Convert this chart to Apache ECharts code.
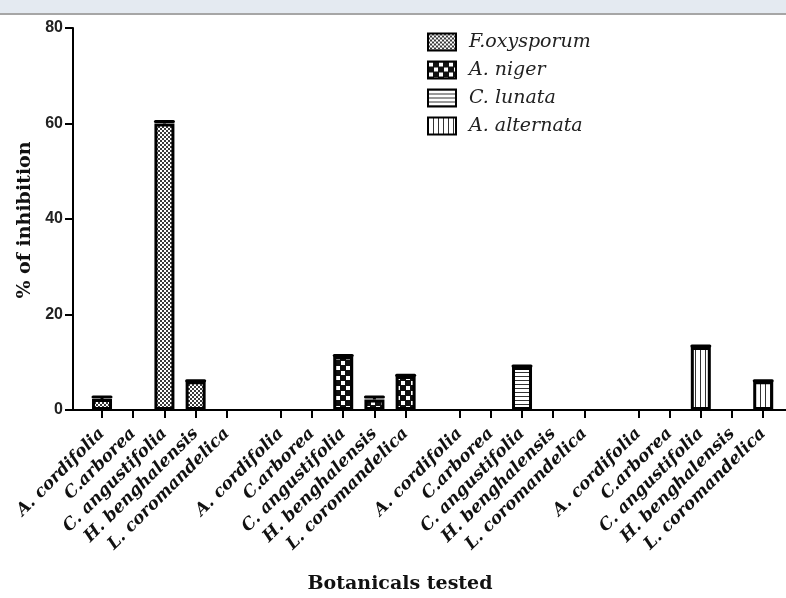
<!DOCTYPE html>
<html>
<head>
<meta charset="utf-8">
<script src="https://cdn.jsdelivr.net/npm/echarts@6/dist/echarts.min.js"></script>
<style>
html,body{margin:0;padding:0;background:#fff;}
#chart{width:786px;height:598px;}
</style>
</head>
<body>
<div id="chart"></div>
<script>
// ---- data ----
const botanicals = ['A. cordifolia', 'C.arborea', 'C. angustifolia', 'H. benghalensis', 'L. coromandelica'];
const fungi = ['F.oxysporum', 'A. niger', 'C. lunata', 'A. alternata'];
const fOxysporum = [2.3, 0, 60, 6, 0];
const aNiger = [0, 0, 11.2, 2.2, 7.1];
const cLunata = [0, 0, 9, 0, 0];
const aAlternata = [0, 0, 13.2, 0, 6];
const fOxysporumErr = [0.4, 0, 0.4, 0.1, 0];
const aNigerErr = [0, 0, 0.2, 0.5, 0.2];
const cLunataErr = [0, 0, 0.2, 0, 0];
const aAlternataErr = [0, 0, 0.2, 0, 0.1];
const yTicks = [0, 20, 40, 60, 80];

const values = [fOxysporum, aNiger, cLunata, aAlternata];
const errors = [fOxysporumErr, aNigerErr, cLunataErr, aAlternataErr];

// ---- layout helpers ----
const GROUP_STEP = 5.73; // group spacing in slot units (one slot per botanical)
const pos = (g, i) => g * GROUP_STEP + i;
const tickPositions = [];
const tickNames = [];
fungi.forEach((f, g) => botanicals.forEach((b, i) => { tickPositions.push(pos(g, i)); tickNames.push(b); }));
function nameAt(v) {
  let best = 0, bd = Infinity;
  tickPositions.forEach((p, k) => { const d = Math.abs(p - v); if (d < bd) { bd = d; best = k; } });
  return tickNames[best];
}

// ---- patterns ----
function makePattern(kind) {
  const c = document.createElement('canvas');
  const ctx = c.getContext('2d');
  if (kind === 0) { // fine checker
    c.width = 4; c.height = 4;
    ctx.fillStyle = '#ffffff'; ctx.fillRect(0, 0, 4, 4);
    ctx.fillStyle = '#3a3a3a'; ctx.fillRect(0, 0, 2, 2); ctx.fillRect(2, 2, 2, 2);
  } else if (kind === 1) { // coarse checker
    c.width = 10; c.height = 10;
    ctx.fillStyle = '#111111'; ctx.fillRect(0, 0, 10, 10);
    ctx.fillStyle = '#ffffff';
    ctx.fillRect(1, 1, 4, 4); ctx.fillRect(6, 6, 4, 4);
  } else if (kind === 2) { // horizontal lines
    c.width = 4; c.height = 4;
    ctx.fillStyle = '#ffffff'; ctx.fillRect(0, 0, 4, 4);
    ctx.fillStyle = '#333333'; ctx.fillRect(0, 0, 4, 1);
  } else { // vertical lines
    c.width = 5; c.height = 5;
    ctx.fillStyle = '#ffffff'; ctx.fillRect(0, 0, 5, 5);
    ctx.fillStyle = '#333333'; ctx.fillRect(0, 0, 1, 5);
  }
  return { image: c, repeat: 'repeat' };
}

const serif = '"DejaVu Serif", "Liberation Serif", serif';
const sans = '"Liberation Sans", Arial, sans-serif';

const barSeries = fungi.map((name, g) => ({
  name: name,
  type: 'bar',
  barWidth: 20,
  barGap: '-100%',
  itemStyle: { color: makePattern(g), borderColor: '#000', borderWidth: 3 },
  emphasis: { disabled: true },
  data: values[g].map((v, i) => [pos(g, i), v]).filter(d => d[1] > 0),
  z: 2
}));

const errData = [];
fungi.forEach((f, g) => values[g].forEach((v, i) => { if (v > 0 && errors[g][i] > 0) errData.push([pos(g, i), v, errors[g][i]]); }));

const errSeries = {
  type: 'custom',
  silent: true,
  data: errData,
  z: 3,
  renderItem: function (params, api) {
    const x = api.value(0), y = api.value(1), e = api.value(2);
    const p0 = api.coord([x, y]);
    const p1 = api.coord([x, y + e]);
    const hw = 9;
    return {
      type: 'group',
      children: [
        { type: 'line', shape: { x1: p0[0], y1: p0[1], x2: p1[0], y2: p1[1] }, style: { stroke: '#000', lineWidth: 3 } },
        { type: 'line', shape: { x1: p1[0] - hw, y1: p1[1], x2: p1[0] + hw, y2: p1[1] }, style: { stroke: '#000', lineWidth: 3, lineCap: 'round' } }
      ]
    };
  }
};

const chart = echarts.init(document.getElementById('chart'), null, { renderer: 'canvas' });
chart.setOption({
  backgroundColor: '#ffffff',
  animation: false,
  graphic: [
    { type: 'rect', left: 0, top: 0, shape: { width: 786, height: 13 }, style: { fill: '#e4eaf1' }, silent: true },
    { type: 'rect', left: 0, top: 13, shape: { width: 786, height: 2 }, style: { fill: '#a6a6a6' }, silent: true },
    { type: 'text', x: 25, y: 220, rotation: Math.PI / 2, silent: true,
      style: { text: '% of inhibition', font: 'bold 19px ' + serif, fill: '#111', align: 'center', verticalAlign: 'middle' } },
    { type: 'text', x: 400, y: 584, silent: true,
      style: { text: 'Botanicals tested', font: 'bold 19px ' + serif, fill: '#111', align: 'center', verticalAlign: 'middle' } }
  ],
  legend: {
    orient: 'vertical',
    left: 427,
    top: 32,
    padding: 0,
    itemWidth: 28,
    itemHeight: 17,
    itemGap: 8,
    icon: 'rect',
    data: fungi,
    selectedMode: false,
    textStyle: { fontFamily: serif, fontStyle: 'italic', fontSize: 19, color: '#222', lineHeight: 20, padding: [0, 0, 0, 8] }
  },
  grid: { left: 73, right: 0, top: 28, bottom: 188, containLabel: false, outerBoundsMode: 'none' },
  xAxis: {
    type: 'value',
    min: -0.93,
    max: 21.92,
    splitLine: { show: false },
    axisLine: { show: true, onZero: false, lineStyle: { color: '#000', width: 2 } },
    axisTick: { show: true, customValues: tickPositions, length: 8, lineStyle: { color: '#000', width: 2 } },
    axisLabel: {
      customValues: tickPositions,
      rotate: 45,
      margin: 21,
      formatter: nameAt,
      fontFamily: serif,
      fontStyle: 'italic',
      fontWeight: 'bold',
      fontSize: 17,
      color: '#111'
    }
  },
  yAxis: {
    type: 'value',
    min: 0,
    max: 80,
    interval: 20,
    splitLine: { show: false },
    axisLine: { show: true, onZero: false, lineStyle: { color: '#000', width: 2 } },
    axisTick: { show: true, length: 8, lineStyle: { color: '#000', width: 2 } },
    axisLabel: { margin: 10, fontFamily: sans, fontWeight: 'bold', fontSize: 16, color: '#222',
      formatter: v => (yTicks.indexOf(v) >= 0 ? String(v) : '') }
  },
  series: barSeries.concat([errSeries])
});
</script>
</body>
</html>
